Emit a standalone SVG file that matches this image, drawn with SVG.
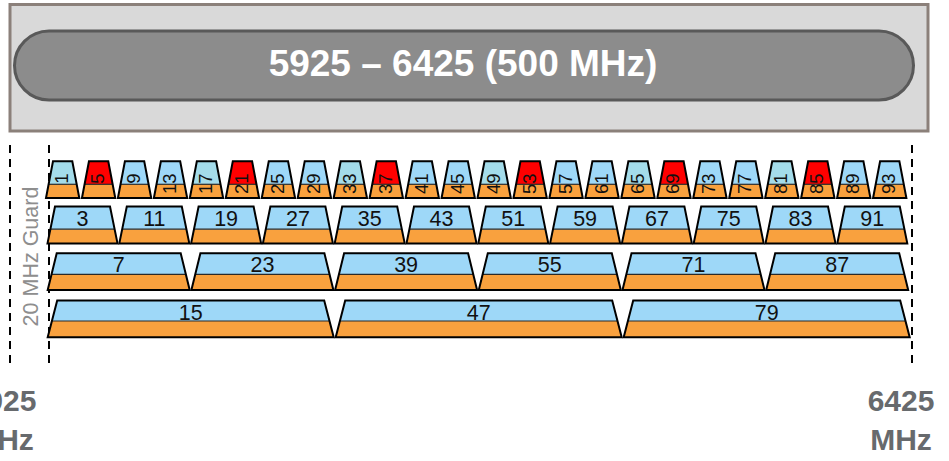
<svg xmlns="http://www.w3.org/2000/svg" xmlns:xlink="http://www.w3.org/1999/xlink" width="949" height="461" viewBox="0 0 949 461">
<style>
text{font-family:"Liberation Sans",Arial,sans-serif}
.title{font-size:37px;font-weight:bold;fill:#ffffff}
.freq{font-size:30px;font-weight:bold;fill:#676a6d}
.guard{font-size:21.5px;fill:#8e8e8e}
.l20{font-size:18.5px;fill:#111}
.lab{font-size:21.5px;fill:#111}
.blue{color:#9ed8f8}
.teal{color:#a4dcea}
.red{color:#ff0000}
.org{fill:#f9a13e}
.div{stroke:#2a2a2a;stroke-width:1.2}
.out{fill:none;stroke:#000;stroke-width:2;stroke-linejoin:miter}
.dash{stroke:#000;stroke-width:2;stroke-dasharray:8 6;fill:none}
</style>
<defs>
<g id="t20">
<polygon class="org" points="2.63,23 30.67,23 33.3,36.8 0,36.8"/>
<polygon fill="currentColor" points="7,0 26.3,0 30.67,23 2.63,23"/>
<line class="div" x1="2.63" y1="23" x2="30.67" y2="23"/>
<polygon class="out" points="7,0 26.3,0 33.3,36.8 0,36.8"/>
</g>
<g id="t40">
<polygon class="org" points="2.9,22.6 67.1,22.6 70,36.8 0,36.8"/>
<polygon fill="currentColor" points="7.5,0 62.5,0 67.1,22.6 2.9,22.6"/>
<line class="div" x1="2.9" y1="22.6" x2="67.1" y2="22.6"/>
<polygon class="out" points="7.5,0 62.5,0 70,36.8 0,36.8"/>
</g>
<g id="t80">
<polygon class="org" points="3.86,21 138.14,21 142,36.8 0,36.8"/>
<polygon fill="currentColor" points="9,0 133,0 138.14,21 3.86,21"/>
<line class="div" x1="3.86" y1="21" x2="138.14" y2="21"/>
<polygon class="out" points="9,0 133,0 142,36.8 0,36.8"/>
</g>
<g id="t160">
<polygon class="org" points="4.21,20.5 281.79,20.5 286,36.8 0,36.8"/>
<polygon fill="currentColor" points="9.5,0 276.5,0 281.79,20.5 4.21,20.5"/>
<line class="div" x1="4.21" y1="20.5" x2="281.79" y2="20.5"/>
<polygon class="out" points="9.5,0 276.5,0 286,36.8 0,36.8"/>
</g>
</defs>

<g id="header">
<rect x="10" y="4.5" width="918" height="126.5" fill="#d9d9d9" stroke="#8b807a" stroke-width="3"/>
<rect x="14.5" y="31" width="899" height="69" rx="34.5" ry="34.5" fill="#8c8c8c" stroke="#595959" stroke-width="3"/>
<text class="title" x="463" y="76" text-anchor="middle">5925 – 6425 (500 MHz)</text>
</g>

<g id="connectors">
<line class="dash" x1="10" y1="145" x2="10" y2="366"/>
<line class="dash" x1="49" y1="145" x2="49" y2="366"/>
<line class="dash" x1="912" y1="145" x2="912" y2="366"/>
</g>

<g id="guard">
<text class="guard" transform="translate(37.5,256.5) rotate(-90)" text-anchor="middle">20 MHz Guard</text>
</g>

<g id="freq-start">
<text class="freq" x="3" y="411" text-anchor="middle">5925</text>
<text class="freq" x="3" y="450" text-anchor="middle">MHz</text>
</g>
<g id="freq-end">
<text class="freq" x="901" y="411" text-anchor="middle">6425</text>
<text class="freq" x="901" y="450" text-anchor="middle">MHz</text>
</g>

<g id="row20">
<g id="ch1"><use xlink:href="#t20" href="#t20" class="teal" x="46" y="161.3"/><text class="l20" transform="translate(62.65,173.5) rotate(-90)" dy="5.5" text-anchor="end">1</text></g>
<g id="ch5"><use xlink:href="#t20" href="#t20" class="red" x="81.96" y="161.3"/><text class="l20" transform="translate(98.61,173.5) rotate(-90)" dy="5.5" text-anchor="end">5</text></g>
<g id="ch9"><use xlink:href="#t20" href="#t20" class="blue" x="117.92" y="161.3"/><text class="l20" transform="translate(134.57,173.5) rotate(-90)" dy="5.5" text-anchor="end">9</text></g>
<g id="ch13"><use xlink:href="#t20" href="#t20" class="blue" x="153.88" y="161.3"/><text class="l20" transform="translate(170.53,173.5) rotate(-90)" dy="5.5" text-anchor="end">13</text></g>
<g id="ch17"><use xlink:href="#t20" href="#t20" class="teal" x="189.84" y="161.3"/><text class="l20" transform="translate(206.49,173.5) rotate(-90)" dy="5.5" text-anchor="end">17</text></g>
<g id="ch21"><use xlink:href="#t20" href="#t20" class="red" x="225.8" y="161.3"/><text class="l20" transform="translate(242.45,173.5) rotate(-90)" dy="5.5" text-anchor="end">21</text></g>
<g id="ch25"><use xlink:href="#t20" href="#t20" class="blue" x="261.76" y="161.3"/><text class="l20" transform="translate(278.41,173.5) rotate(-90)" dy="5.5" text-anchor="end">25</text></g>
<g id="ch29"><use xlink:href="#t20" href="#t20" class="blue" x="297.72" y="161.3"/><text class="l20" transform="translate(314.37,173.5) rotate(-90)" dy="5.5" text-anchor="end">29</text></g>
<g id="ch33"><use xlink:href="#t20" href="#t20" class="teal" x="333.68" y="161.3"/><text class="l20" transform="translate(350.33,173.5) rotate(-90)" dy="5.5" text-anchor="end">33</text></g>
<g id="ch37"><use xlink:href="#t20" href="#t20" class="red" x="369.64" y="161.3"/><text class="l20" transform="translate(386.29,173.5) rotate(-90)" dy="5.5" text-anchor="end">37</text></g>
<g id="ch41"><use xlink:href="#t20" href="#t20" class="blue" x="405.6" y="161.3"/><text class="l20" transform="translate(422.25,173.5) rotate(-90)" dy="5.5" text-anchor="end">41</text></g>
<g id="ch45"><use xlink:href="#t20" href="#t20" class="blue" x="441.56" y="161.3"/><text class="l20" transform="translate(458.21,173.5) rotate(-90)" dy="5.5" text-anchor="end">45</text></g>
<g id="ch49"><use xlink:href="#t20" href="#t20" class="teal" x="477.52" y="161.3"/><text class="l20" transform="translate(494.17,173.5) rotate(-90)" dy="5.5" text-anchor="end">49</text></g>
<g id="ch53"><use xlink:href="#t20" href="#t20" class="red" x="513.48" y="161.3"/><text class="l20" transform="translate(530.13,173.5) rotate(-90)" dy="5.5" text-anchor="end">53</text></g>
<g id="ch57"><use xlink:href="#t20" href="#t20" class="blue" x="549.44" y="161.3"/><text class="l20" transform="translate(566.09,173.5) rotate(-90)" dy="5.5" text-anchor="end">57</text></g>
<g id="ch61"><use xlink:href="#t20" href="#t20" class="blue" x="585.4" y="161.3"/><text class="l20" transform="translate(602.05,173.5) rotate(-90)" dy="5.5" text-anchor="end">61</text></g>
<g id="ch65"><use xlink:href="#t20" href="#t20" class="teal" x="621.36" y="161.3"/><text class="l20" transform="translate(638.01,173.5) rotate(-90)" dy="5.5" text-anchor="end">65</text></g>
<g id="ch69"><use xlink:href="#t20" href="#t20" class="red" x="657.32" y="161.3"/><text class="l20" transform="translate(673.97,173.5) rotate(-90)" dy="5.5" text-anchor="end">69</text></g>
<g id="ch73"><use xlink:href="#t20" href="#t20" class="blue" x="693.28" y="161.3"/><text class="l20" transform="translate(709.93,173.5) rotate(-90)" dy="5.5" text-anchor="end">73</text></g>
<g id="ch77"><use xlink:href="#t20" href="#t20" class="blue" x="729.24" y="161.3"/><text class="l20" transform="translate(745.89,173.5) rotate(-90)" dy="5.5" text-anchor="end">77</text></g>
<g id="ch81"><use xlink:href="#t20" href="#t20" class="teal" x="765.2" y="161.3"/><text class="l20" transform="translate(781.85,173.5) rotate(-90)" dy="5.5" text-anchor="end">81</text></g>
<g id="ch85"><use xlink:href="#t20" href="#t20" class="red" x="801.16" y="161.3"/><text class="l20" transform="translate(817.81,173.5) rotate(-90)" dy="5.5" text-anchor="end">85</text></g>
<g id="ch89"><use xlink:href="#t20" href="#t20" class="blue" x="837.12" y="161.3"/><text class="l20" transform="translate(853.77,173.5) rotate(-90)" dy="5.5" text-anchor="end">89</text></g>
<g id="ch93"><use xlink:href="#t20" href="#t20" class="blue" x="873.08" y="161.3"/><text class="l20" transform="translate(889.73,173.5) rotate(-90)" dy="5.5" text-anchor="end">93</text></g>
</g>

<g id="row40">
<g id="ch3"><use xlink:href="#t40" href="#t40" class="blue" x="47.5" y="206.6"/><text class="lab" x="82.5" y="225.5" text-anchor="middle">3</text></g>
<g id="ch11"><use xlink:href="#t40" href="#t40" class="blue" x="119.3" y="206.6"/><text class="lab" x="154.3" y="225.5" text-anchor="middle">11</text></g>
<g id="ch19"><use xlink:href="#t40" href="#t40" class="blue" x="191.1" y="206.6"/><text class="lab" x="226.1" y="225.5" text-anchor="middle">19</text></g>
<g id="ch27"><use xlink:href="#t40" href="#t40" class="blue" x="262.9" y="206.6"/><text class="lab" x="297.9" y="225.5" text-anchor="middle">27</text></g>
<g id="ch35"><use xlink:href="#t40" href="#t40" class="blue" x="334.7" y="206.6"/><text class="lab" x="369.7" y="225.5" text-anchor="middle">35</text></g>
<g id="ch43"><use xlink:href="#t40" href="#t40" class="blue" x="406.5" y="206.6"/><text class="lab" x="441.5" y="225.5" text-anchor="middle">43</text></g>
<g id="ch51"><use xlink:href="#t40" href="#t40" class="blue" x="478.3" y="206.6"/><text class="lab" x="513.3" y="225.5" text-anchor="middle">51</text></g>
<g id="ch59"><use xlink:href="#t40" href="#t40" class="blue" x="550.1" y="206.6"/><text class="lab" x="585.1" y="225.5" text-anchor="middle">59</text></g>
<g id="ch67"><use xlink:href="#t40" href="#t40" class="blue" x="621.9" y="206.6"/><text class="lab" x="656.9" y="225.5" text-anchor="middle">67</text></g>
<g id="ch75"><use xlink:href="#t40" href="#t40" class="blue" x="693.7" y="206.6"/><text class="lab" x="728.7" y="225.5" text-anchor="middle">75</text></g>
<g id="ch83"><use xlink:href="#t40" href="#t40" class="blue" x="765.5" y="206.6"/><text class="lab" x="800.5" y="225.5" text-anchor="middle">83</text></g>
<g id="ch91"><use xlink:href="#t40" href="#t40" class="blue" x="837.3" y="206.6"/><text class="lab" x="872.3" y="225.5" text-anchor="middle">91</text></g>
</g>

<g id="row80">
<g id="ch7"><use xlink:href="#t80" href="#t80" class="blue" x="47.7" y="253.3"/><text class="lab" x="118.7" y="272" text-anchor="middle">7</text></g>
<g id="ch23"><use xlink:href="#t80" href="#t80" class="blue" x="191.4" y="253.3"/><text class="lab" x="262.4" y="272" text-anchor="middle">23</text></g>
<g id="ch39"><use xlink:href="#t80" href="#t80" class="blue" x="335.1" y="253.3"/><text class="lab" x="406.1" y="272" text-anchor="middle">39</text></g>
<g id="ch55"><use xlink:href="#t80" href="#t80" class="blue" x="478.8" y="253.3"/><text class="lab" x="549.8" y="272" text-anchor="middle">55</text></g>
<g id="ch71"><use xlink:href="#t80" href="#t80" class="blue" x="622.5" y="253.3"/><text class="lab" x="693.5" y="272" text-anchor="middle">71</text></g>
<g id="ch87"><use xlink:href="#t80" href="#t80" class="blue" x="766.2" y="253.3"/><text class="lab" x="837.2" y="272" text-anchor="middle">87</text></g>
</g>

<g id="row160">
<g id="ch15"><use xlink:href="#t160" href="#t160" class="blue" x="47.7" y="300.5"/><text class="lab" x="190.7" y="319.5" text-anchor="middle">15</text></g>
<g id="ch47"><use xlink:href="#t160" href="#t160" class="blue" x="335.7" y="300.5"/><text class="lab" x="478.7" y="319.5" text-anchor="middle">47</text></g>
<g id="ch79"><use xlink:href="#t160" href="#t160" class="blue" x="623.7" y="300.5"/><text class="lab" x="766.7" y="319.5" text-anchor="middle">79</text></g>
</g>
</svg>
